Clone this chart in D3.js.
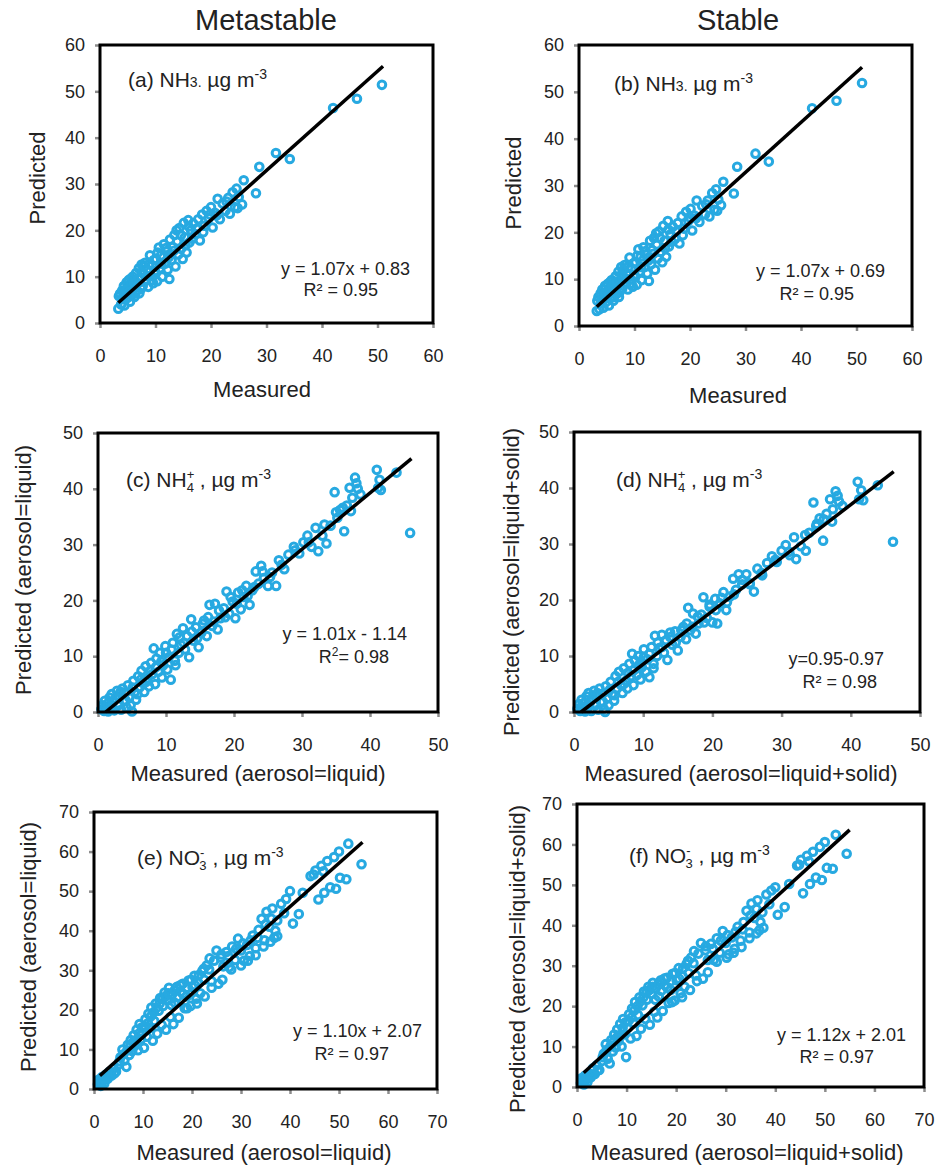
<!DOCTYPE html>
<html>
<head>
<meta charset="utf-8">
<title>Predicted vs measured</title>
<script src="https://d3js.org/d3.v7.min.js"></script>
<style>
  body { margin: 0; background: #fff; }
  text { font-family: "Liberation Sans", Arial, sans-serif; fill: #222; }
</style>
</head>
<body>
<svg id="chart" width="937" height="1168"></svg>
<script>
// column titles
const titles = ["Metastable", "Stable"];

// axis maxima per panel (a..f), ticks every 10
const axisMax = [60, 60, 50, 50, 70, 70];
const tickStep = 10;

const xLabels = ["Measured", "Measured",
  "Measured (aerosol=liquid)", "Measured (aerosol=liquid+solid)",
  "Measured (aerosol=liquid)", "Measured (aerosol=liquid+solid)"];
const yLabels = ["Predicted", "Predicted",
  "Predicted (aerosol=liquid)", "Predicted (aerosol=liquid+solid)",
  "Predicted (aerosol=liquid)", "Predicted (aerosol=liquid+solid)"];

// regression lines: slope, intercept, x range drawn
const fitSlope = [1.07, 1.07, 1.01, 0.95, 1.10, 1.12];
const fitIntercept = [0.83, 0.69, -1.14, -0.97, 2.07, 2.01];
const fitRange = [[3.3, 51], [3.2, 51], [1.13, 46.1], [1.02, 46.2], [1.2, 54.8], [1.35, 55]];
const eqTexts = ["y = 1.07x + 0.83", "y = 1.07x + 0.69", "y = 1.01x - 1.14",
  "y=0.95-0.97", "y = 1.10x + 2.07", "y = 1.12x + 2.01"];
const r2Values = ["0.95", "0.95", "0.98", "0.98", "0.97", "0.97"];

// [measured, predicted]
const ptsA = [
  [3.3,3.1],[3.4,5.8],[3.6,6.3],[3.8,4.0],[4.0,7.0],[4.1,5.2],[4.3,8.0],[4.4,3.8],[4.6,6.5],[4.8,8.8],
  [4.9,5.4],[5.1,7.4],[5.2,9.3],[5.4,4.6],[5.5,8.2],[5.7,6.0],[5.9,10.0],[6.0,7.5],[6.2,5.6],[6.3,9.2],
  [6.5,10.8],[6.6,7.0],[6.8,8.5],[7.0,11.8],[7.1,6.4],[7.3,9.8],[7.5,12.6],[7.7,8.0],[7.9,10.6],[8.1,13.0],
  [8.3,9.2],[8.5,11.5],[8.7,7.8],[9.0,14.6],[9.2,10.2],[9.4,12.4],[9.6,8.6],[9.9,11.2],[10.1,13.8],[10.3,9.0],
  [10.6,16.3],[10.8,11.8],[11.0,14.6],[11.2,10.0],[11.5,17.0],[11.7,12.8],[12.0,15.4],[12.2,11.5],[12.5,9.5],[12.6,18.0],
  [12.9,13.6],[13.1,16.4],[13.4,19.0],[13.6,12.2],[13.9,17.6],[14.1,14.8],[14.3,20.5],[14.6,16.0],[14.9,13.8],[15.1,21.6],
  [15.3,18.5],[15.6,15.2],[15.9,22.2],[16.1,17.4],[16.4,20.0],[16.8,21.5],[17.2,19.2],[17.7,22.4],[18.0,17.8],[18.4,23.4],
  [18.8,21.0],[19.2,24.2],[19.6,22.6],[20.0,25.0],[20.3,20.6],[20.7,23.8],[21.2,26.8],[21.6,22.4],[22.1,25.8],[22.6,24.2],
  [23.1,27.0],[23.4,23.6],[23.9,28.2],[24.3,25.0],[24.6,29.0],[25.0,27.2],[25.6,25.6],[25.9,30.8],[28.1,28.0],[28.7,33.7],
  [31.7,36.7],[34.2,35.4],[42.0,46.4],[46.3,48.4],[50.8,51.4],
  [4.2,6.0],[4.7,7.2],[5.3,6.8],[5.6,9.6],[6.1,8.6],[6.4,6.4],[6.9,9.6],[7.4,7.4],[7.6,11.0],[8.0,12.2],
  [8.4,10.2],[8.9,12.8],[9.3,9.2],[9.7,13.6],[10.0,10.6],[10.4,15.2],[11.1,12.8],[11.9,16.2],[12.4,14.2],[13.3,15.6],
  [13.8,20.0],[14.6,19.0],[15.4,16.8],[16.0,20.8],[16.6,18.2],[17.4,20.4],[18.6,19.6],[19.8,23.4],[21.0,23.2],[22.8,26.2],
  [24.8,24.8]
];
const ptsB = [
  [3.2,3.2],[3.3,5.4],[3.5,6.2],[3.7,3.6],[3.9,7.0],[4.0,4.8],[4.2,7.8],[4.4,3.9],[4.5,6.4],[4.7,8.6],
  [4.9,5.2],[5.0,7.2],[5.2,9.0],[5.4,4.4],[5.5,8.0],[5.7,6.0],[5.9,9.8],[6.1,7.4],[6.2,5.4],[6.4,9.2],
  [6.6,10.6],[6.7,6.8],[6.9,8.4],[7.1,11.6],[7.2,6.2],[7.4,9.6],[7.6,12.6],[7.8,8.0],[8.0,10.4],[8.2,13.0],
  [8.4,9.0],[8.6,11.2],[8.8,7.8],[9.1,14.6],[9.3,10.0],[9.5,12.2],[9.7,8.4],[10.0,11.0],[10.2,13.6],[10.4,8.8],
  [10.7,16.4],[10.9,11.6],[11.1,14.8],[11.3,9.8],[11.6,16.8],[11.8,12.6],[12.1,15.2],[12.3,11.2],[12.6,9.6],[12.8,18.2],
  [13.0,13.2],[13.2,16.2],[13.5,18.8],[13.7,12.0],[14.0,17.4],[14.2,14.4],[14.4,20.2],[14.7,15.8],[15.0,13.6],[15.2,21.4],
  [15.4,18.2],[15.7,14.8],[16.0,22.4],[16.2,17.0],[16.5,19.6],[16.9,21.2],[17.3,18.6],[17.8,22.0],[18.1,17.6],[18.5,23.4],
  [18.9,20.8],[19.3,24.4],[19.7,22.4],[20.1,25.0],[20.4,20.4],[20.8,23.6],[21.2,26.8],[21.7,22.2],[22.2,25.6],[22.7,23.8],
  [23.2,26.8],[23.5,23.4],[24.0,28.4],[24.4,24.8],[24.7,29.2],[25.1,27.0],[25.6,25.8],[26.0,30.8],[27.9,28.3],[28.5,34.0],
  [31.8,36.8],[34.2,35.1],[42.0,46.5],[46.4,48.1],[51.0,51.9],
  [4.1,5.8],[4.6,7.0],[5.3,6.6],[5.6,9.4],[6.0,8.4],[6.3,6.2],[6.8,9.4],[7.3,7.2],[7.7,11.0],[8.1,12.0],
  [8.5,10.0],[8.9,12.6],[9.4,9.0],[9.8,13.4],[10.1,10.4],[10.5,15.0],[11.2,12.6],[12.0,16.0],[12.5,14.0],[13.4,15.4],
  [13.9,19.8],[14.6,18.8],[15.5,16.6],[16.1,20.6],[16.7,18.0],[17.5,20.2],[18.7,19.4],[19.9,23.2],[21.1,23.0],[22.9,26.0],
  [24.9,24.6]
];
const ptsC = [
  [0.5,0.5],[0.7,1.2],[0.9,0.2],[1.0,2.0],[1.2,0.8],[1.4,1.5],[1.5,0.1],[1.7,2.6],[1.9,0.6],[2.0,3.2],
  [2.2,1.8],[2.4,0.3],[2.6,2.4],[2.8,3.8],[3.0,1.2],[3.2,2.8],[3.4,0.4],[3.6,4.2],[3.8,2.0],[4.0,3.4],
  [4.2,0.8],[4.4,4.8],[4.6,2.6],[4.8,1.2],[5.0,0.1],[5.2,5.6],[5.4,3.6],[5.6,2.2],[5.9,6.4],[6.1,4.4],
  [6.4,7.4],[6.6,5.2],[6.8,3.6],[7.0,8.2],[7.3,6.0],[7.5,4.6],[7.8,8.8],[8.0,6.8],[8.2,11.4],[8.4,5.0],
  [8.6,9.6],[8.9,7.2],[9.1,10.6],[9.4,6.2],[9.6,8.4],[9.9,11.8],[10.2,7.6],[10.4,9.8],[10.7,5.8],[11.0,12.4],
  [11.3,9.2],[11.6,14.0],[11.9,10.6],[12.2,12.0],[12.5,15.0],[12.8,11.2],[13.1,13.6],[13.4,9.8],[13.7,16.6],[14.0,12.8],
  [14.4,15.2],[14.8,11.6],[15.2,14.2],[15.6,16.4],[16.0,13.6],[16.4,19.2],[16.8,15.4],[17.2,19.4],[17.6,14.8],[18.0,16.8],
  [18.5,18.6],[18.9,21.6],[19.3,17.6],[19.8,19.8],[20.2,16.8],[20.6,21.4],[21.0,18.4],[21.4,20.6],[21.8,22.6],[22.3,19.2],
  [22.7,21.8],[23.2,25.2],[23.6,23.0],[24.0,26.2],[24.4,24.0],[25.0,22.6],[25.6,25.0],[26.2,22.6],[26.6,27.2],[27.4,25.6],
  [28.0,28.2],[28.8,29.6],[29.6,28.4],[30.2,30.4],[30.8,31.6],[31.4,29.6],[32.0,33.0],[32.4,28.8],[33.0,31.6],[33.6,30.2],
  [34.2,33.4],[34.8,39.4],[35.2,34.8],[35.6,36.2],[36.2,32.4],[36.6,37.0],[37.0,40.2],[37.4,38.4],[37.8,42.0],[38.2,40.0],
  [38.6,39.0],[41.0,43.4],[41.2,40.2],[41.4,41.6],[41.6,39.8],[43.9,42.9],[45.9,32.1],
  [1.3,0.3],[2.1,1.0],[3.3,3.6],[4.1,2.0],[5.1,4.4],[5.8,3.2],[6.3,5.8],[7.1,5.4],[7.7,7.4],[8.5,8.0],
  [9.3,9.0],[10.0,10.6],[10.8,11.2],[11.4,8.4],[12.0,13.4],[12.6,12.4],[13.8,14.4],[14.6,13.2],[15.4,15.8],[16.2,17.0],
  [17.0,16.2],[17.8,18.2],[18.7,17.0],[19.5,20.6],[20.4,19.4],[21.2,21.8],[22.0,20.8],[23.0,22.4],[24.2,25.2],[25.3,24.2],
  [27.0,26.4],[29.0,29.0],[31.0,30.4],[33.3,33.6],[35.0,35.8],[36.0,36.6],[37.2,36.0],[38.0,41.0]
];
const ptsD = [
  [0.5,0.6],[0.7,1.4],[0.9,0.2],[1.1,2.2],[1.2,0.9],[1.4,1.6],[1.6,0.1],[1.8,2.8],[2.0,0.7],[2.1,3.4],
  [2.3,1.8],[2.5,0.2],[2.7,2.4],[2.9,3.8],[3.1,1.2],[3.3,2.8],[3.5,0.4],[3.7,4.2],[3.9,1.8],[4.1,3.2],
  [4.3,0.6],[4.5,0.0],[4.6,4.6],[4.8,2.4],[5.0,1.2],[5.3,5.4],[5.5,3.2],[5.8,2.0],[6.0,6.4],[6.2,4.2],
  [6.5,7.2],[6.8,4.8],[7.0,3.4],[7.2,7.8],[7.5,5.6],[7.7,4.2],[8.0,8.6],[8.2,6.4],[8.4,10.4],[8.6,4.8],
  [8.8,9.2],[9.1,6.6],[9.3,10.0],[9.6,5.8],[9.8,8.0],[10.1,11.2],[10.4,7.2],[10.6,9.4],[10.9,6.2],[11.2,11.6],
  [11.5,8.6],[11.7,13.6],[12.0,10.0],[12.3,11.4],[12.7,13.8],[13.0,10.6],[13.3,12.8],[13.5,9.3],[13.9,14.2],[14.2,12.0],
  [14.6,14.4],[15.0,11.0],[15.4,13.4],[15.8,15.2],[16.2,13.0],[16.5,18.6],[16.8,14.6],[17.2,17.6],[17.6,14.0],[18.0,15.8],
  [18.4,17.4],[18.7,20.5],[19.2,16.8],[19.6,18.8],[20.0,16.0],[20.4,20.2],[20.7,15.8],[21.1,19.4],[21.6,21.4],[22.0,18.2],
  [22.5,20.6],[23.0,23.8],[23.4,21.8],[23.8,24.6],[24.3,22.8],[24.9,24.6],[25.4,23.0],[26.0,21.5],[26.5,25.6],[27.2,24.4],
  [27.9,26.6],[28.6,27.8],[29.3,26.8],[30.0,28.8],[30.6,29.8],[31.2,28.0],[31.8,31.2],[32.1,27.3],[32.8,29.6],[33.5,28.8],
  [34.0,32.0],[34.6,37.4],[35.0,33.2],[35.5,34.6],[36.0,30.6],[36.5,35.4],[37.0,38.0],[37.4,36.2],[37.8,39.4],[38.3,37.6],
  [38.8,36.8],[41.0,41.1],[41.2,38.0],[41.5,39.6],[41.8,37.8],[43.9,40.5],[46.1,30.4],
  [1.3,0.4],[2.2,1.2],[3.4,3.4],[4.2,1.8],[5.2,4.0],[5.9,3.0],[6.4,5.4],[7.2,5.0],[7.8,7.0],[8.6,7.4],
  [9.4,8.4],[10.1,9.8],[10.9,10.4],[11.5,7.8],[12.1,12.4],[12.7,11.6],[13.9,13.4],[14.7,12.4],[15.5,14.6],[16.3,15.8],
  [17.1,15.2],[17.9,17.0],[18.8,16.0],[19.6,19.2],[20.5,18.2],[21.3,20.4],[22.1,19.6],[23.1,21.0],[24.3,23.6],[25.4,22.8],
  [27.1,24.8],[29.1,27.2],[31.1,28.6],[33.4,31.6],[35.1,33.6],[36.1,34.4],[37.3,34.0],[38.1,38.6]
];
const ptsE = [
  [0.8,1.2],[1.0,2.4],[1.2,1.6],[1.4,0.8],[1.6,3.0],[1.8,2.0],[2.1,1.4],[2.4,3.6],[2.8,2.6],[3.2,4.4],
  [3.6,3.4],[4.0,5.2],[4.5,4.4],[5.0,6.2],[5.4,8.0],[5.8,10.0],[6.2,7.2],[6.6,5.6],[6.9,11.2],[7.2,8.6],
  [7.5,12.4],[7.8,9.6],[8.1,13.6],[8.4,11.0],[8.7,15.0],[9.0,9.8],[9.3,16.4],[9.6,12.6],[9.9,14.2],[10.2,10.4],
  [10.5,17.6],[10.8,13.2],[11.1,19.0],[11.4,15.4],[11.7,20.6],[12.0,12.2],[12.3,17.2],[12.6,21.6],[12.9,14.0],[13.2,19.8],
  [13.5,23.0],[13.8,16.2],[14.1,21.0],[14.4,24.4],[14.7,15.0],[15.0,22.4],[15.3,25.6],[15.6,18.2],[15.9,23.8],[16.2,16.4],
  [16.5,21.8],[16.9,25.8],[17.3,18.0],[17.7,24.6],[18.1,26.6],[18.5,20.4],[18.9,23.4],[19.3,27.4],[19.7,21.0],[20.1,25.8],
  [20.5,28.6],[20.9,22.8],[21.3,26.8],[21.7,24.2],[22.1,29.8],[22.5,27.6],[23.0,31.2],[23.5,30.2],[24.0,27.2],[24.5,32.4],
  [25.0,35.0],[25.4,26.6],[25.9,33.2],[26.4,31.0],[27.0,34.6],[27.6,30.8],[28.2,36.0],[28.8,32.6],[29.4,38.0],[30.0,35.0],
  [30.6,32.4],[31.2,36.4],[31.8,33.6],[32.4,38.8],[33.0,35.6],[33.6,40.2],[34.2,43.0],[34.8,37.6],[35.2,44.8],[35.8,41.0],
  [36.4,45.6],[36.8,38.2],[37.4,42.6],[38.2,46.8],[39.2,48.0],[40.0,50.0],[40.6,41.8],[41.8,44.2],[42.6,49.6],[44.2,53.8],
  [45.2,55.2],[45.8,47.9],[46.4,56.4],[47.0,49.6],[47.6,57.6],[48.2,51.0],[49.0,58.6],[49.4,50.6],[50.0,60.0],[50.2,53.4],
  [51.5,53.0],[51.9,62.0],[54.6,56.8],
  [1.1,1.0],[1.5,1.9],[2.0,2.6],[3.0,3.2],[4.2,4.0],[5.2,7.0],[6.0,8.8],[6.8,9.8],[7.4,10.8],[8.0,11.8],
  [8.6,12.4],[9.2,14.0],[9.8,15.6],[10.4,15.8],[11.0,16.6],[11.6,18.4],[12.2,19.4],[12.8,20.6],[13.4,21.6],[14.0,22.8],
  [14.6,23.4],[15.2,24.2],[15.8,21.2],[16.4,24.8],[17.0,23.2],[17.6,26.2],[18.2,24.0],[19.0,25.6],[19.8,27.6],[20.6,26.2],
  [21.4,28.8],[22.4,30.4],[23.6,33.0],[26.0,34.0],[27.4,33.6],[29.0,35.4],[30.4,36.8],[32.0,37.6],[33.4,38.2],[35.0,41.6],
  [36.2,43.0],[37.0,40.0],[38.8,44.4],[44.8,54.2],[46.8,55.0],
  [19.0,20.4],[21.0,21.6],[22.6,23.4],[24.0,25.6],[26.2,27.6],[28.0,30.2],[30.0,31.2],[31.4,32.4],[33.0,33.8],[34.6,36.0],
  [36.0,37.2],[37.4,38.6]
];
const ptsF = [
  [0.8,1.0],[1.0,2.2],[1.2,1.4],[1.4,0.6],[1.6,2.8],[1.8,1.8],[2.1,1.2],[2.4,3.4],[2.8,2.4],[3.2,4.6],
  [3.6,3.2],[4.0,5.4],[4.5,4.2],[5.0,6.4],[5.4,8.2],[5.8,10.6],[6.2,7.0],[6.6,5.8],[6.9,11.6],[7.2,8.8],
  [7.5,13.0],[7.8,9.8],[8.1,14.2],[8.4,11.4],[8.7,15.6],[9.0,10.0],[9.3,16.8],[9.6,13.0],[9.9,7.4],[10.2,14.6],
  [10.5,18.0],[10.8,12.0],[11.1,19.4],[11.4,15.8],[11.7,21.0],[12.0,12.6],[12.3,17.8],[12.6,22.2],[12.9,14.4],[13.2,20.2],
  [13.5,23.6],[13.8,16.8],[14.1,21.6],[14.4,24.8],[14.7,15.4],[15.0,23.0],[15.3,25.8],[15.6,18.6],[15.9,24.4],[16.2,17.2],
  [16.5,22.4],[16.9,26.4],[17.3,18.8],[17.7,25.2],[18.1,27.0],[18.5,20.8],[18.9,24.0],[19.3,28.0],[19.7,21.4],[20.1,26.4],
  [20.5,29.4],[20.9,23.2],[21.3,27.4],[21.7,24.8],[22.1,30.4],[22.5,28.2],[23.0,32.0],[23.5,30.6],[24.0,27.6],[24.5,33.0],
  [25.0,35.6],[25.4,26.8],[25.9,33.8],[26.4,31.4],[27.0,35.4],[27.6,31.4],[28.2,36.8],[28.8,33.2],[29.4,38.6],[30.0,35.6],
  [30.6,32.8],[31.2,37.0],[31.8,34.2],[32.4,39.6],[33.0,36.2],[33.6,40.8],[34.2,43.6],[34.8,38.2],[35.2,45.4],[35.8,41.8],
  [36.4,46.2],[36.8,38.8],[37.4,43.2],[38.2,47.6],[39.2,48.6],[40.0,49.4],[40.5,42.6],[41.9,44.5],[42.8,50.2],[44.4,54.8],
  [45.2,56.2],[45.6,47.9],[46.4,57.2],[47.0,50.2],[47.6,58.2],[48.2,51.8],[49.0,59.4],[49.4,51.2],[50.0,60.6],[50.4,54.2],
  [51.6,54.0],[52.2,62.4],[54.4,57.7],
  [1.1,0.9],[1.5,1.8],[2.0,2.4],[3.0,3.0],[4.2,4.2],[5.2,7.4],[6.0,9.2],[6.8,10.2],[7.4,11.2],[8.0,12.2],
  [8.6,12.8],[9.2,14.6],[9.8,16.0],[10.4,16.4],[11.0,17.2],[11.6,19.0],[12.2,20.0],[12.8,21.2],[13.4,22.2],[14.0,23.4],
  [14.6,24.0],[15.2,24.8],[15.8,21.6],[16.4,25.4],[17.0,23.8],[17.6,26.8],[18.2,24.6],[19.0,26.2],[19.8,28.2],[20.6,26.8],
  [21.4,29.4],[22.4,31.2],[23.6,33.6],[26.0,34.8],[27.4,34.2],[29.0,36.2],[30.4,37.6],[32.0,38.4],[33.4,39.0],[35.0,42.4],
  [36.2,44.0],[37.0,40.8],[38.8,45.2],[44.8,55.0],[46.8,55.8],
  [19.2,21.0],[21.2,22.2],[22.8,24.0],[24.2,26.2],[26.4,28.4],[28.2,31.0],[30.2,32.0],[31.6,33.2],[33.2,34.6],[34.8,36.8],
  [36.2,38.0],[37.6,39.4]
];
const allPts = [ptsA, ptsB, ptsC, ptsD, ptsE, ptsF];

// panel labels as text runs (shift = baseline offset, dx = extra spacing)
const panelLabels = [
  [{t: "(a) NH"}, {t: "3.", size: 14}, {t: "  µg m"}, {t: "-3", size: 14, shift: -8}],
  [{t: "(b) NH"}, {t: "3.", size: 14}, {t: "  µg m"}, {t: "-3", size: 14, shift: -8}],
  [{t: "(c) NH"}, {t: "+", size: 13, shift: -8}, {t: "4", size: 13, shift: 5, dx: -7.5}, {t: " , µg m"}, {t: "-3", size: 14, shift: -8}],
  [{t: "(d)   NH"}, {t: "+", size: 13, shift: -8}, {t: "4", size: 13, shift: 5, dx: -7.5}, {t: " , µg m"}, {t: "-3", size: 14, shift: -8}],
  [{t: "(e) NO"}, {t: "-", size: 13, shift: -8}, {t: "3", size: 13, shift: 5, dx: -5}, {t: " , µg m"}, {t: "-3", size: 14, shift: -8}],
  [{t: "(f)  NO"}, {t: "-", size: 13, shift: -8}, {t: "3", size: 13, shift: 5, dx: -5}, {t: " , µg m"}, {t: "-3", size: 14, shift: -8}]
];

// layout: plot frame [left, top, right, bottom] and text placements
const layout = [
  {box: [100, 45, 433, 323], lab: [28, 42], eq: [-23, -48], r2: [-55, -27], yl: [37, 178], xl: [262, 397]},
  {box: [579, 45, 912, 326], lab: [35, 46], eq: [-27, -49], r2: [-58, -26], yl: [513, 183], xl: [738, 403]},
  {box: [98, 433, 438, 712], lab: [28, 54], eq: [-31, -72], r2: [-49, -49], yl: [23, 570], xl: [258, 781]},
  {box: [574, 432, 920, 712], lab: [42, 55], eq: [-36, -47], r2: [-43, -24], yl: [511, 582], xl: [741, 781]},
  {box: [94, 812, 437, 1089], lab: [43, 53], eq: [-15, -52], r2: [-48, -29], yl: [28, 947], xl: [264, 1160]},
  {box: [577, 804, 924, 1087], lab: [52, 59], eq: [-18, -46], r2: [-50, -24], yl: [517, 959], xl: [747, 1160]}
];

const svg = d3.select("#chart");
const markerColor = "#27a9e1";

svg.selectAll("text.title")
  .data(titles)
  .join("text")
  .attr("class", "title")
  .attr("x", (d, i) => i === 0 ? 266 : 738)
  .attr("y", 30)
  .attr("text-anchor", "middle")
  .attr("font-size", 29)
  .text(d => d);

function richText(g, x, y, runs, size) {
  const t = g.append("text").attr("x", x).attr("y", y).attr("font-size", size);
  let cur = 0;
  runs.forEach(r => {
    const s = r.shift || 0;
    t.append("tspan")
      .attr("dx", r.dx || 0)
      .attr("dy", s - cur)
      .attr("font-size", r.size || size)
      .text(r.t);
    cur = s;
  });
  return t;
}

layout.forEach((L, i) => {
  const [x0, y0, x1, y1] = L.box;
  const max = axisMax[i];
  const ticks = d3.range(0, max + 1, tickStep);
  const x = d3.scaleLinear().domain([0, max]).range([x0, x1]);
  const y = d3.scaleLinear().domain([0, max]).range([y1, y0]);
  const g = svg.append("g");

  const xa = g.append("g")
    .attr("transform", `translate(0,${y1})`)
    .call(d3.axisBottom(x).tickValues(ticks).tickSize(5).tickSizeOuter(0).tickPadding(21));
  const ya = g.append("g")
    .attr("transform", `translate(${x0},0)`)
    .call(d3.axisLeft(y).tickValues(ticks).tickSize(5).tickSizeOuter(0).tickPadding(10));
  [xa, ya].forEach(a => {
    a.select(".domain").remove();
    a.selectAll(".tick line").attr("stroke", "#8c8c8c").attr("stroke-width", 2.5);
    a.selectAll(".tick text").attr("font-size", 18).attr("fill", "#2a2a2a")
      .attr("font-family", "'Liberation Sans', Arial, sans-serif");
  });

  // scatter points
  g.append("g")
    .selectAll("circle")
    .data(allPts[i])
    .join("circle")
    .attr("cx", d => x(d[0]))
    .attr("cy", d => y(d[1]))
    .attr("r", 3.8)
    .attr("fill", "none")
    .attr("stroke", markerColor)
    .attr("stroke-width", 3);

  // regression line
  const fx = fitRange[i];
  g.append("line")
    .attr("x1", x(fx[0])).attr("y1", y(fitSlope[i] * fx[0] + fitIntercept[i]))
    .attr("x2", x(fx[1])).attr("y2", y(fitSlope[i] * fx[1] + fitIntercept[i]))
    .attr("stroke", "#000")
    .attr("stroke-width", 3.5);

  // frame
  g.append("rect")
    .attr("x", x0).attr("y", y0)
    .attr("width", x1 - x0).attr("height", y1 - y0)
    .attr("fill", "none")
    .attr("stroke", "#000")
    .attr("stroke-width", 3);

  richText(g, x0 + L.lab[0], y0 + L.lab[1], panelLabels[i], 21);

  g.append("text")
    .attr("x", x1 + L.eq[0]).attr("y", y1 + L.eq[1])
    .attr("text-anchor", "end").attr("font-size", 18)
    .text(eqTexts[i]);
  const r2 = g.append("text")
    .attr("x", x1 + L.r2[0]).attr("y", y1 + L.r2[1])
    .attr("text-anchor", "end").attr("font-size", 18);
  if (i === 2) {
    r2.append("tspan").text("R");
    r2.append("tspan").attr("dy", -7).attr("font-size", 12).text("2");
    r2.append("tspan").attr("dy", 7).text("= " + r2Values[i]);
  } else {
    r2.text("R² = " + r2Values[i]);
  }

  g.append("text")
    .attr("transform", `translate(${L.yl[0]},${L.yl[1]}) rotate(-90)`)
    .attr("text-anchor", "middle")
    .attr("dy", "0.35em")
    .attr("font-size", 22)
    .text(yLabels[i]);
  g.append("text")
    .attr("x", L.xl[0]).attr("y", L.xl[1])
    .attr("text-anchor", "middle")
    .attr("font-size", 22)
    .text(xLabels[i]);
});
</script>
</body>
</html>
